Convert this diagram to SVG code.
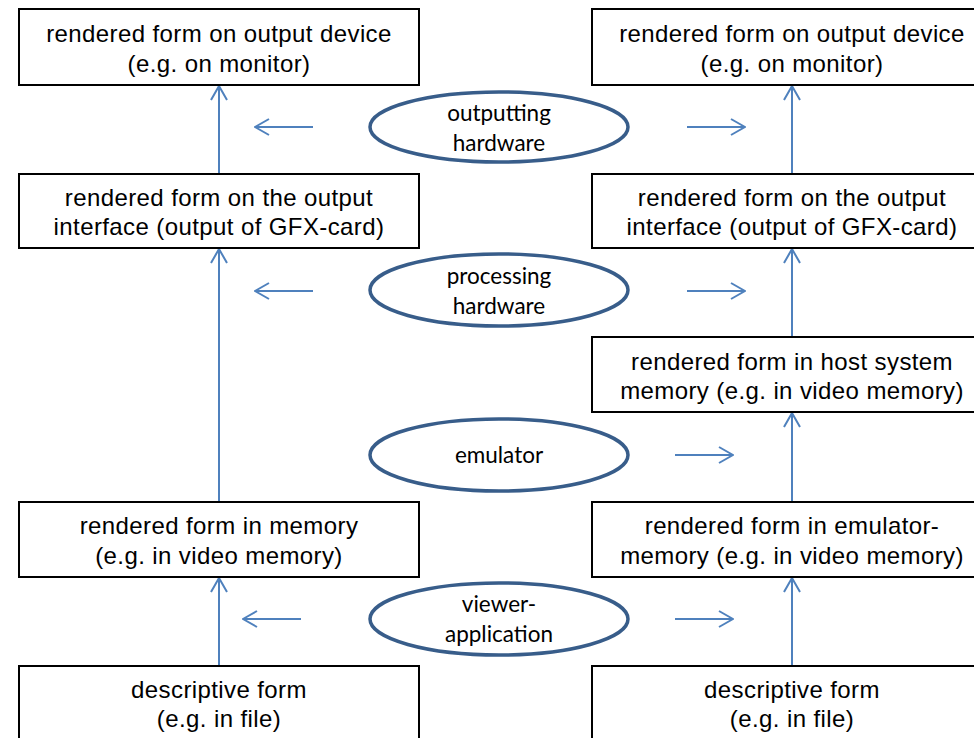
<svg xmlns="http://www.w3.org/2000/svg" width="974" height="738" viewBox="0 0 974 738">
<style>
.box{fill:#fff;stroke:#000;stroke-width:2}
.bt{font-family:"Liberation Sans",Arial,sans-serif;font-size:24px;letter-spacing:0.4px;fill:#000;text-anchor:middle}
.ell{fill:#fff;stroke:#385d8a;stroke-width:3.5}
.et{font-family:Lato,"Open Sans",sans-serif;font-size:22.5px;fill:#000;text-anchor:middle}
.c{stroke:#4f81bd;stroke-width:2;fill:none}
</style>
<defs>
<marker id="ah" viewBox="0 0 16 18" refX="15" refY="9" markerWidth="16" markerHeight="18" markerUnits="userSpaceOnUse" orient="auto">
<path d="M1,1 L15,9 L1,17" fill="none" stroke="#4f81bd" stroke-width="2"/>
</marker>
</defs>
<g id="connectors">
<path class="c" d="M219,174 V86" marker-end="url(#ah)"/>
<path class="c" d="M219,502 V249" marker-end="url(#ah)"/>
<path class="c" d="M219,666 V578" marker-end="url(#ah)"/>
<path class="c" d="M792,174 V86" marker-end="url(#ah)"/>
<path class="c" d="M792,337 V249" marker-end="url(#ah)"/>
<path class="c" d="M792,502 V413" marker-end="url(#ah)"/>
<path class="c" d="M792,666 V578" marker-end="url(#ah)"/>
<path class="c" d="M313,127 H255" marker-end="url(#ah)"/>
<path class="c" d="M687,127 H745" marker-end="url(#ah)"/>
<path class="c" d="M313,291 H255" marker-end="url(#ah)"/>
<path class="c" d="M687,291 H745" marker-end="url(#ah)"/>
<path class="c" d="M675,455 H733" marker-end="url(#ah)"/>
<path class="c" d="M301,619 H243" marker-end="url(#ah)"/>
<path class="c" d="M675,619 H733" marker-end="url(#ah)"/>
</g>
<g id="l-device"><rect class="box" x="19" y="9" width="400" height="76"/><text class="bt" x="219" y="42">rendered form on output device</text><text class="bt" x="219" y="72">(e.g. on monitor)</text></g>
<g id="l-interface"><rect class="box" x="19" y="174" width="400" height="74"/><text class="bt" x="219" y="206">rendered form on the output</text><text class="bt" x="219" y="235">interface (output of GFX-card)</text></g>
<g id="l-memory"><rect class="box" x="19" y="502" width="400" height="75"/><text class="bt" x="219" y="534">rendered form in memory</text><text class="bt" x="219" y="564">(e.g. in video memory)</text></g>
<g id="l-desc"><rect class="box" x="19" y="666" width="400" height="80"/><text class="bt" x="219" y="698">descriptive form</text><text class="bt" x="219" y="727">(e.g. in file)</text></g>
<g id="r-device"><rect class="box" x="592" y="9" width="400" height="76"/><text class="bt" x="792" y="42">rendered form on output device</text><text class="bt" x="792" y="72">(e.g. on monitor)</text></g>
<g id="r-interface"><rect class="box" x="592" y="174" width="400" height="74"/><text class="bt" x="792" y="206">rendered form on the output</text><text class="bt" x="792" y="235">interface (output of GFX-card)</text></g>
<g id="r-host"><rect class="box" x="592" y="337" width="400" height="75"/><text class="bt" x="792" y="370">rendered form in host system</text><text class="bt" x="792" y="399">memory (e.g. in video memory)</text></g>
<g id="r-emumem"><rect class="box" x="592" y="502" width="400" height="75"/><text class="bt" x="792" y="534">rendered form in emulator-</text><text class="bt" x="792" y="564">memory (e.g. in video memory)</text></g>
<g id="r-desc"><rect class="box" x="592" y="666" width="400" height="80"/><text class="bt" x="792" y="698">descriptive form</text><text class="bt" x="792" y="727">(e.g. in file)</text></g>
<g id="e-outputting"><ellipse class="ell" cx="499" cy="127" rx="129" ry="35"/><text class="et" x="499" y="121">outputting</text><text class="et" x="499" y="151">hardware</text></g>
<g id="e-processing"><ellipse class="ell" cx="499" cy="290" rx="129" ry="36"/><text class="et" x="499" y="284">processing</text><text class="et" x="499" y="314">hardware</text></g>
<g id="e-emulator"><ellipse class="ell" cx="499" cy="455" rx="129" ry="36"/><text class="et" x="499" y="463">emulator</text></g>
<g id="e-viewer"><ellipse class="ell" cx="499" cy="619" rx="129" ry="36"/><text class="et" x="499" y="612">viewer-</text><text class="et" x="499" y="642">application</text></g>
</svg>
